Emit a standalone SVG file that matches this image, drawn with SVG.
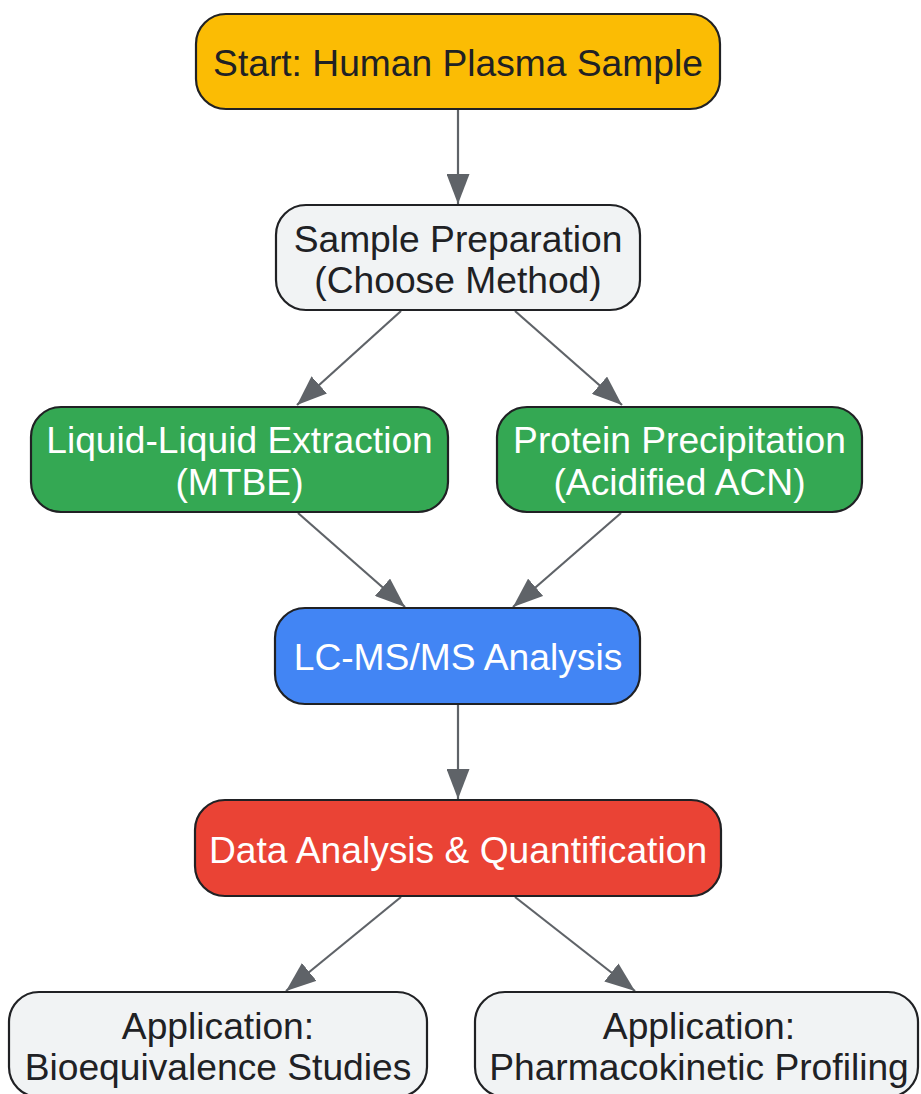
<svg xmlns="http://www.w3.org/2000/svg" width="921" height="1094" viewBox="0 0 921 1094">
<style>
.box{stroke:#202124;stroke-width:2.2}
.t{font-family:"Liberation Sans",Arial,sans-serif;font-size:37.2px;text-anchor:middle}
.dk{fill:#202124}
.wt{fill:#ffffff}
.edge{stroke:#5f6368;stroke-width:2.2;fill:none;marker-end:url(#ah)}
</style>
<defs>
<marker id="ah" viewBox="0 0 30 23" refX="30" refY="11.5" markerWidth="30" markerHeight="23" markerUnits="userSpaceOnUse" orient="auto">
<path d="M0,0 L30,11.5 L0,23 z" fill="#5f6368"/>
</marker>
</defs>
<rect width="921" height="1094" fill="#ffffff"/>
<g id="connectors">
<line class="edge" x1="458" y1="110" x2="458" y2="204"/>
<line class="edge" x1="401" y1="311" x2="297" y2="405"/>
<line class="edge" x1="515" y1="311" x2="622" y2="405"/>
<line class="edge" x1="298" y1="513" x2="405" y2="607"/>
<line class="edge" x1="621" y1="513" x2="513" y2="607"/>
<line class="edge" x1="458" y1="705" x2="458" y2="799"/>
<line class="edge" x1="401" y1="897" x2="286" y2="991"/>
<line class="edge" x1="515" y1="897" x2="635" y2="991"/>
</g>
<g id="start">
<rect class="box" x="196" y="14" width="524" height="95" rx="30" fill="#fbbc04"/>
<text class="t dk" x="458" y="76">Start: Human Plasma Sample</text>
</g>
<g id="prep">
<rect class="box" x="276" y="205" width="364" height="105" rx="30" fill="#f1f3f4"/>
<text class="t dk" x="458" y="252">Sample Preparation</text>
<text class="t dk" x="458" y="293">(Choose Method)</text>
</g>
<g id="lle">
<rect class="box" x="31" y="407" width="417" height="105" rx="30" fill="#34a853"/>
<text class="t wt" x="239.5" y="453">Liquid-Liquid Extraction</text>
<text class="t wt" x="239.5" y="495">(MTBE)</text>
</g>
<g id="pp">
<rect class="box" x="497" y="407" width="365" height="105" rx="30" fill="#34a853"/>
<text class="t wt" x="679.5" y="453">Protein Precipitation</text>
<text class="t wt" x="679.5" y="495">(Acidified ACN)</text>
</g>
<g id="lcms">
<rect class="box" x="275" y="608" width="365" height="96" rx="30" fill="#4285f4"/>
<text class="t wt" x="458" y="670">LC-MS/MS Analysis</text>
</g>
<g id="data">
<rect class="box" x="195" y="800" width="526" height="96" rx="30" fill="#ea4335"/>
<text class="t wt" x="458" y="863">Data Analysis &amp; Quantification</text>
</g>
<g id="app1">
<rect class="box" x="9" y="992" width="418" height="105" rx="30" fill="#f1f3f4"/>
<text class="t dk" x="218" y="1039">Application:</text>
<text class="t dk" x="218" y="1080">Bioequivalence Studies</text>
</g>
<g id="app2">
<rect class="box" x="475" y="992" width="443" height="105" rx="30" fill="#f1f3f4"/>
<text class="t dk" x="699" y="1039">Application:</text>
<text class="t dk" x="699" y="1080">Pharmacokinetic Profiling</text>
</g>
</svg>
